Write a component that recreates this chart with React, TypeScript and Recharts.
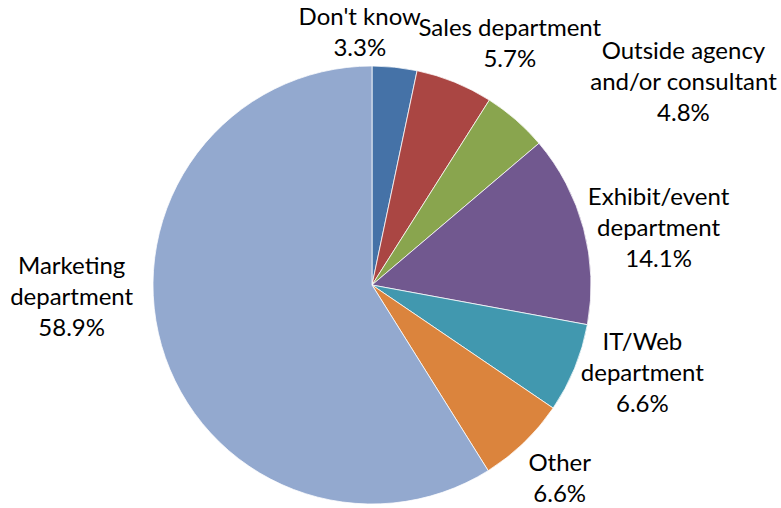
import { PieChart, Pie, Cell } from "recharts"

const categories = [
  "Don't know",
  "Sales department",
  "Outside agency and/or consultant",
  "Exhibit/event department",
  "IT/Web department",
  "Other",
  "Marketing department",
]
const shares = [3.3, 5.7, 4.8, 14.1, 6.6, 6.6, 58.9]
// how each category name wraps in its label
const labelLines = [
  ["Don't know"],
  ["Sales department"],
  ["Outside agency", "and/or consultant"],
  ["Exhibit/event", "department"],
  ["IT/Web", "department"],
  ["Other"],
  ["Marketing", "department"],
]

const colors = ["#4572A7", "#AA4643", "#89A54E", "#71588F", "#4198AF", "#DB843D", "#93A9CF"]
// hand nudges from the radial anchor, like labels dragged in the original
const labelNudge = [
  [-38, -5],
  [44, -11],
  [148, -15],
  [46, 7],
  [40, -7],
  [15, 14],
  [-61, -57],
]

const data = categories.map((name, i) => ({ name, value: shares[i] }))

const FONT = 24
const LINE = 31
const RAD = Math.PI / 180

function renderLabel(props: any) {
  const { cx, cy, midAngle, outerRadius, index, value } = props
  const r = outerRadius + 30
  const x = cx + r * Math.cos(-midAngle * RAD) + labelNudge[index][0]
  const y = cy + r * Math.sin(-midAngle * RAD) + labelNudge[index][1]
  const lines = [...labelLines[index], `${Number(value).toFixed(1)}%`]
  const firstBase = y - ((lines.length - 1) / 2) * LINE + 8
  return (
    <text
      x={x}
      y={firstBase}
      textAnchor="middle"
      fill="#000"
      fontSize={FONT}
      fontFamily="Lato, 'Open Sans', sans-serif"
    >
      {lines.map((t, i) => (
        <tspan key={i} x={x} dy={i === 0 ? 0 : LINE}>
          {t}
        </tspan>
      ))}
    </text>
  )
}

export default function App() {
  return (
    <div style={{ position: "absolute", left: 0, top: 0, width: 781, height: 508, background: "#fff" }}>
      <PieChart width={781} height={508} margin={{ top: 0, right: 0, bottom: 0, left: 0 }}>
        <Pie
          data={data}
          dataKey="value"
          nameKey="name"
          cx={372}
          cy={285}
          outerRadius={219}
          startAngle={90}
          endAngle={-270}
          stroke="#ffffff"
          strokeWidth={0.75}
          label={renderLabel}
          labelLine={false}
          isAnimationActive={false}
        >
          {data.map((entry, index) => (
            <Cell key={`cell-${index}`} fill={colors[index]} />
          ))}
        </Pie>
      </PieChart>
    </div>
  )
}
